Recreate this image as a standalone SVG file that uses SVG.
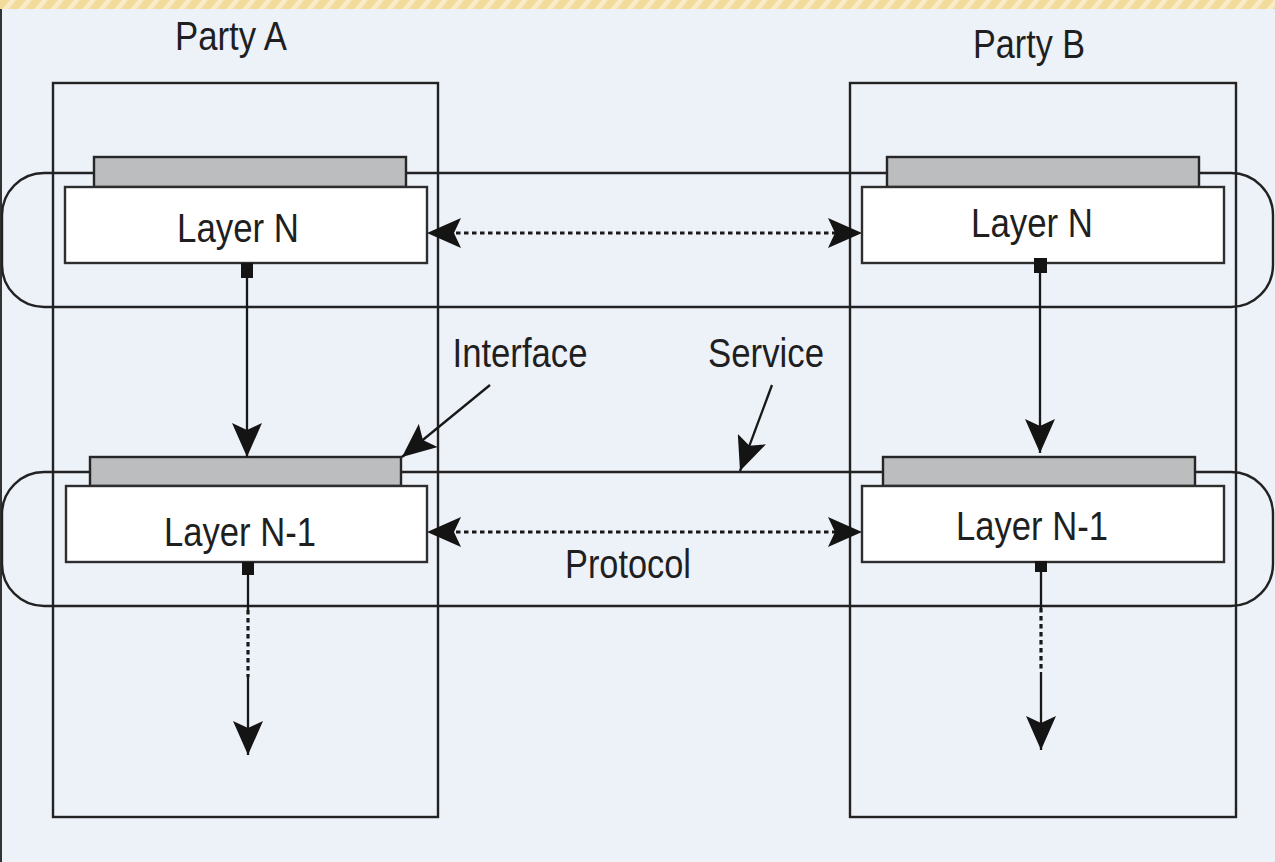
<svg xmlns="http://www.w3.org/2000/svg" width="1275" height="862" viewBox="0 0 1275 862">
  <style>
    .bg { fill: #edf1f8; }
    .frame { fill: none; stroke: #222222; stroke-width: 2.4; }
    .band { fill: none; stroke: #222222; stroke-width: 2.4; }
    .bar { fill: #bcbdbf; stroke: #262626; stroke-width: 2.4; }
    .layer { fill: #ffffff; stroke: #2e2e2e; stroke-width: 2.4; }
    .port { fill: #141414; }
    .lbl { font-family: "Liberation Sans", Arial, sans-serif; font-size: 40px; fill: #1f1f1f; }
    .wire { fill: none; stroke: #181818; stroke-width: 2.3; }
    .dots { fill: none; stroke: #181818; stroke-width: 3.2; stroke-dasharray: 4.5 3.5; }
  </style>
  <defs>
    <pattern id="stripes" width="16" height="10" patternUnits="userSpaceOnUse" patternTransform="skewX(-40)">
      <rect width="16" height="10" fill="#f2dc9c"/>
      <rect x="10" width="6" height="10" fill="#f8ebc6"/>
    </pattern>
    <marker id="head" viewBox="0 0 34 30" refX="34" refY="15" markerWidth="34" markerHeight="30" markerUnits="userSpaceOnUse" orient="auto-start-reverse">
      <path d="M0,0 L34,15 L0,30 L7,15 Z" fill="#141414"/>
    </marker>
  </defs>

  <!-- page -->
  <rect class="bg" x="0" y="0" width="1275" height="862"/>
  <rect x="0" y="0" width="1275" height="9" fill="url(#stripes)"/>
  <line x1="1" y1="9" x2="1" y2="862" stroke="#333333" stroke-width="2"/>

  <!-- party columns -->
  <g id="party-a">
    <rect class="frame" x="53" y="83" width="385" height="734"/>
    <text class="lbl" x="231" y="50" text-anchor="middle" textLength="112" lengthAdjust="spacingAndGlyphs">Party A</text>
  </g>
  <g id="party-b">
    <rect class="frame" x="850" y="83" width="386" height="734"/>
    <text class="lbl" x="1029" y="58" text-anchor="middle" textLength="112" lengthAdjust="spacingAndGlyphs">Party B</text>
  </g>

  <!-- peer bands -->
  <g id="band-n">
    <rect class="band" x="2" y="173" width="1271" height="134" rx="42" ry="42"/>
  </g>
  <g id="band-n1">
    <rect class="band" x="2" y="472" width="1271" height="134" rx="42" ry="42"/>
  </g>

  <!-- layers -->
  <g id="a-layer-n">
    <rect class="bar" x="94" y="157" width="312" height="30"/>
    <rect class="layer" x="65" y="187" width="362" height="76"/>
    <rect class="port" x="241" y="263" width="12" height="15"/>
    <text class="lbl" x="238" y="242" text-anchor="middle" textLength="122" lengthAdjust="spacingAndGlyphs">Layer N</text>
  </g>
  <g id="b-layer-n">
    <rect class="bar" x="887" y="157" width="312" height="30"/>
    <rect class="layer" x="862" y="187" width="362" height="76"/>
    <rect class="port" x="1034" y="258" width="13" height="15"/>
    <text class="lbl" x="1032" y="237" text-anchor="middle" textLength="122" lengthAdjust="spacingAndGlyphs">Layer N</text>
  </g>
  <g id="a-layer-n1">
    <rect class="bar" x="90" y="457" width="311" height="29"/>
    <rect class="layer" x="66" y="486" width="361" height="76"/>
    <rect class="port" x="242" y="562" width="12" height="13"/>
    <text class="lbl" x="240" y="546" text-anchor="middle" textLength="152" lengthAdjust="spacingAndGlyphs">Layer N-1</text>
  </g>
  <g id="b-layer-n1">
    <rect class="bar" x="883" y="457" width="312" height="29"/>
    <rect class="layer" x="862" y="486" width="362" height="76"/>
    <rect class="port" x="1035" y="561" width="12" height="11"/>
    <text class="lbl" x="1032" y="540" text-anchor="middle" textLength="152" lengthAdjust="spacingAndGlyphs">Layer N-1</text>
  </g>

  <!-- annotations -->
  <g id="labels">
    <text class="lbl" x="520" y="367" text-anchor="middle" textLength="135" lengthAdjust="spacingAndGlyphs">Interface</text>
    <text class="lbl" x="766" y="367" text-anchor="middle" textLength="116" lengthAdjust="spacingAndGlyphs">Service</text>
    <text class="lbl" x="628" y="578" text-anchor="middle" textLength="126" lengthAdjust="spacingAndGlyphs">Protocol</text>
  </g>

  <!-- connectors -->
  <g id="connectors">
    <!-- peer protocol, layer N -->
    <line class="dots" x1="440" y1="233" x2="850" y2="233"/>
    <line x1="445" y1="233" x2="427" y2="233" marker-end="url(#head)"/>
    <line x1="845" y1="233" x2="862" y2="233" marker-end="url(#head)"/>
    <!-- peer protocol, layer N-1 -->
    <line class="dots" x1="440" y1="532" x2="850" y2="532"/>
    <line x1="445" y1="532" x2="427" y2="532" marker-end="url(#head)"/>
    <line x1="845" y1="532" x2="862" y2="532" marker-end="url(#head)"/>
    <!-- service calls N to N-1 -->
    <line class="wire" x1="247" y1="278" x2="247" y2="457" marker-end="url(#head)"/>
    <line class="wire" x1="1040" y1="273" x2="1040" y2="453" marker-end="url(#head)"/>
    <!-- calls below N-1 -->
    <line class="wire" x1="248" y1="575" x2="248" y2="610"/>
    <line class="dots" x1="248" y1="610" x2="248" y2="677" stroke-width="2.6"/>
    <line class="wire" x1="248" y1="677" x2="248" y2="755" marker-end="url(#head)"/>
    <line class="wire" x1="1041" y1="572" x2="1041" y2="608"/>
    <line class="dots" x1="1041" y1="608" x2="1041" y2="672" stroke-width="2.6"/>
    <line class="wire" x1="1041" y1="672" x2="1041" y2="750" marker-end="url(#head)"/>
    <!-- callouts -->
    <line class="wire" x1="490" y1="385" x2="402" y2="457" marker-end="url(#head)"/>
    <line class="wire" x1="772" y1="385" x2="740" y2="471" marker-end="url(#head)"/>
  </g>
</svg>
